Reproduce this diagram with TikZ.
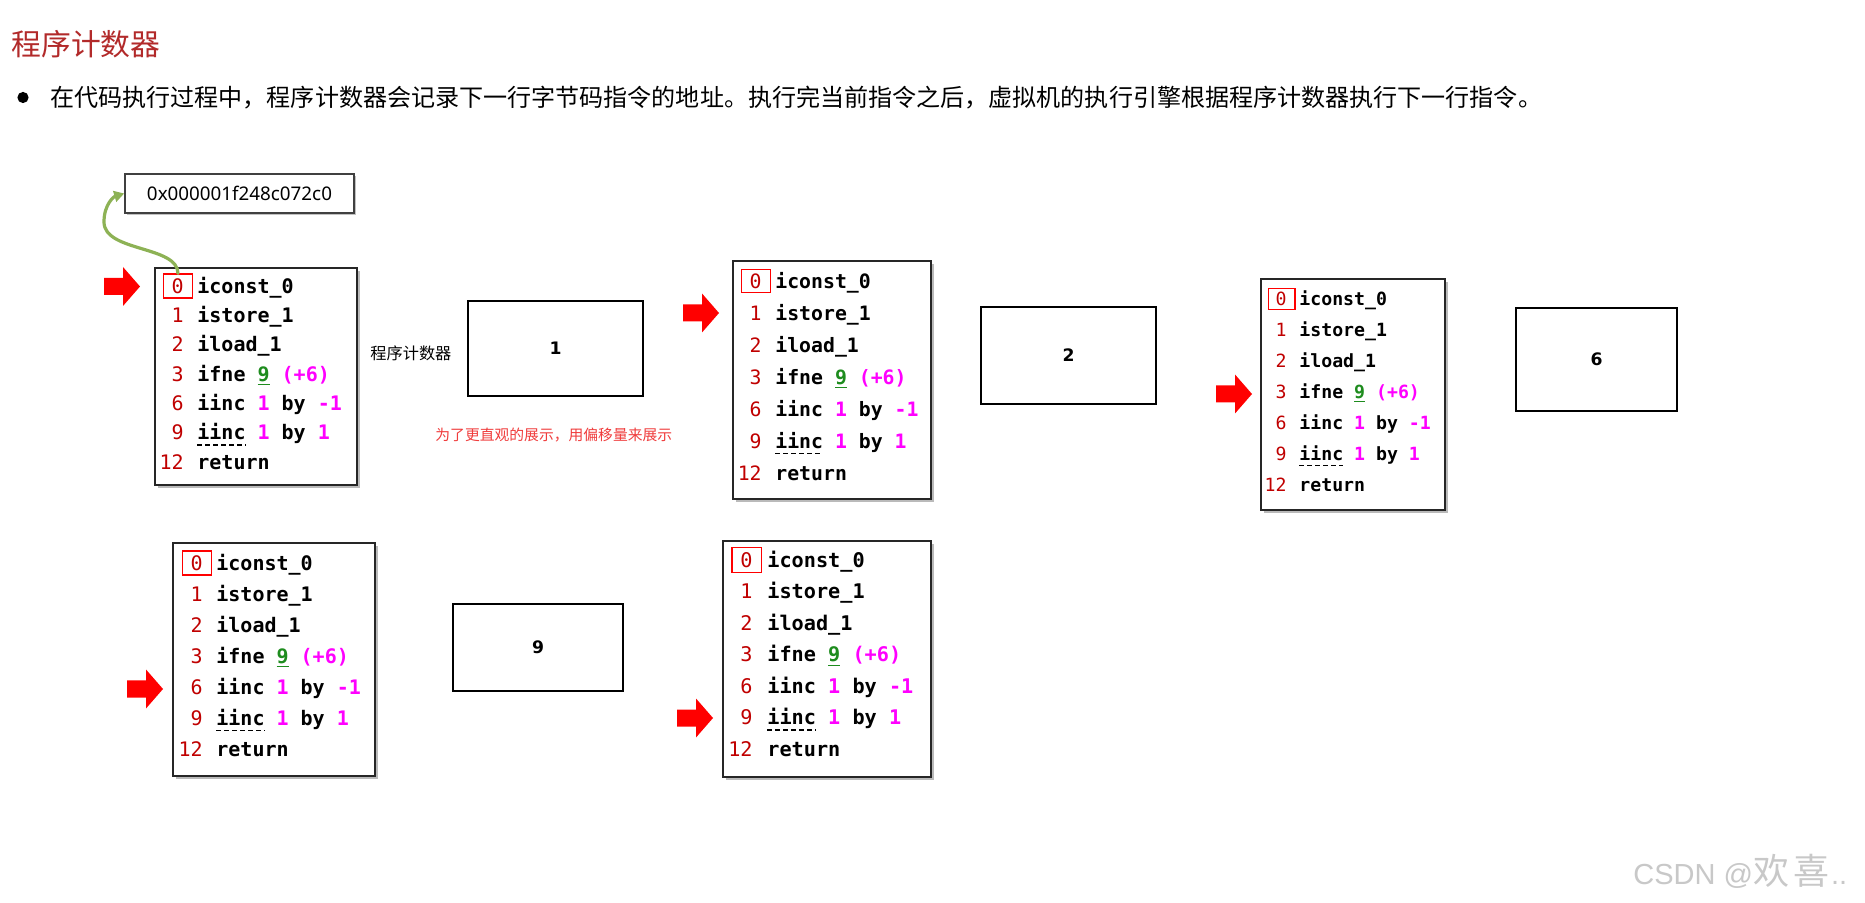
\documentclass[tikz,border=0pt]{standalone}
\usepackage{fontspec}
\setmainfont{Noto Sans}
\newfontfamily\cjk{Noto Sans CJK SC}
\newfontfamily\codefont{DejaVu Sans Mono}
\newfontfamily\wmfont{Liberation Sans}
\newfontfamily\pcfont{DejaVu Sans}
\usetikzlibrary{shadows,arrows.meta}
\definecolor{titlered}{HTML}{B22A2A}
\definecolor{numred}{HTML}{C00000}
\definecolor{codegreen}{HTML}{1E8C1E}
\definecolor{codemag}{HTML}{FF00FF}
\definecolor{notered}{HTML}{F03C3C}
\definecolor{arrowgreen}{HTML}{8DB255}
\definecolor{wmgray}{HTML}{C8C8C8}
\newcommand\cfs{10}
\tikzset{
  codeframe/.style={draw=black!85, line width=0.75pt, fill=white, inner sep=0pt,
    drop shadow={shadow xshift=1.3pt, shadow yshift=-1.3pt, opacity=0.45, fill=black!60}},
  numtxt/.style={anchor=east, inner sep=0pt, text=numred,
    font={\codefont\fontsize{\cfs}{\cfs}\selectfont},
    text height={0.73*\cfs*1pt}, text depth=0pt},
  instr/.style={anchor=west, inner sep=0pt, text=black,
    font={\codefont\bfseries\fontsize{\cfs}{\cfs}\selectfont},
    text height={0.73*\cfs*1pt}, text depth=0pt},
  zerobox/.style={draw=red, line width=0.55pt, inner sep=0pt,
    minimum width={1.48*\cfs*1pt}, minimum height={1.2*\cfs*1pt}},
  dashul/.style={draw=black, line width=0.6pt, dash pattern=on 2.4pt off 1.6pt},
  pcbox/.style={draw=black, line width=1.15pt, inner sep=0pt, fill=white,
    font={\pcfont\bfseries\fontsize{8.6}{10}\selectfont}},
  addrbox/.style={draw=black!75, line width=0.8pt, inner sep=0pt, fill=white,
    font={\fontsize{9.4}{11}\selectfont},
    drop shadow={shadow xshift=1.2pt, shadow yshift=-1.2pt, opacity=0.4, fill=black!60}},
  cjktext/.style={anchor=west, inner sep=0pt},
}
% #1 prefix, #2 x1, #3 y1, #4 x2, #5 y2, #6 number right x, #7 instr x, #8 first line y, #9 spacing
\newcommand\codebox[9]{%
  \node[codeframe, minimum width={(#4-#2)*0.5pt}, minimum height={(#5-#3)*0.5pt}]
    (#1) at ({(#2+#4)/2},{(#3+#5)/2}) {};
  \node[zerobox] (#1z) at ({#6-0.602*\cfs},#8) {};
  \node[numtxt] (#1n0) at (#6,#8) {0};
  \node[instr]  (#1i0) at (#7,#8) {iconst\_0};
  \node[numtxt] (#1n1) at (#6,{#8+#9}) {1};
  \node[instr]  (#1i1) at (#7,{#8+#9}) {istore\_1};
  \node[numtxt] (#1n2) at (#6,{#8+2*#9}) {2};
  \node[instr]  (#1i2) at (#7,{#8+2*#9}) {iload\_1};
  \node[numtxt] (#1n3) at (#6,{#8+3*#9}) {3};
  \node[instr]  (#1i3) at (#7,{#8+3*#9}) {ifne {\color{codegreen}\underline{9}} {\color{codemag}(+6)}};
  \node[numtxt] (#1n4) at (#6,{#8+4*#9}) {6};
  \node[instr]  (#1i4) at (#7,{#8+4*#9}) {iinc {\color{codemag}1} by {\color{codemag}-1}};
  \node[numtxt] (#1n5) at (#6,{#8+5*#9}) {9};
  \node[instr]  (#1i5) at (#7,{#8+5*#9}) {iinc {\color{codemag}1} by {\color{codemag}1}};
  \draw[dashul] ([yshift=-2.4pt]#1i5.south west) -- ++({4.816*\cfs},0);
  \node[numtxt] (#1n6) at (#6,{#8+6*#9}) {12};
  \node[instr]  (#1i6) at (#7,{#8+6*#9}) {return};
}
\newcommand\redarrow[2]{%
  \fill[red] (#1,#2-8.5) -- (#1+19,#2-8.5) -- (#1+19,#2-19.5) -- (#1+36,#2)
    -- (#1+19,#2+19.5) -- (#1+19,#2+8.5) -- (#1,#2+8.5) -- cycle;}
\begin{document}
\begin{tikzpicture}[x=0.5pt,y=-0.5pt]
\useasboundingbox[fill=white] (0,0) rectangle (1865,903);

% title and bullet text
\node[cjktext, text=titlered, font={\cjk\fontsize{14.9}{18}\selectfont}] (title) at (11,44) {程序计数器};
\node[circle, fill=black, inner sep=0pt, minimum size=5.6pt] (bullet) at (23,97.5) {};
\node[cjktext, font={\cjk\fontsize{12.03}{15}\selectfont}] (body) at (50,97.5)
  {在代码执行过程中，程序计数器会记录下一行字节码指令的地址。执行完当前指令之后，虚拟机的执行引擎根据程序计数器执行下一行指令。};

% address box
\node[addrbox, minimum width={229*0.5pt}, minimum height={39*0.5pt}] (addr) at (239.5,193.5) {0x000001f248c072c0};

% code boxes
\renewcommand\cfs{10}\codebox{A}{155}{268}{357}{485}{184}{197}{286}{29.3}
\renewcommand\cfs{9.9}\codebox{B}{733}{261}{931}{499}{762}{775}{281}{32}
\renewcommand\cfs{9.1}\codebox{C}{1261}{279}{1445}{510}{1287}{1299}{299}{31}
\renewcommand\cfs{10}\codebox{D}{173}{543}{375}{776}{203}{216}{563}{31}
\renewcommand\cfs{10.1}\codebox{E}{723}{541}{931}{777}{753}{767}{560}{31.5}

% green pointer
\draw[arrowgreen, line width=1.6pt, line cap=round, -{Triangle[length=5pt,width=5.5pt]}]
  (Az.north) .. controls +(0,-28) and +(0,30) .. (104,222)
  .. controls +(0,-18) and +(-10,3) .. (addr.west);

% red arrows
\redarrow{104}{286.5}
\redarrow{683}{313}
\redarrow{1216}{394}
\redarrow{127}{689}
\redarrow{677}{718}

% program counter boxes
\node[cjktext, font={\cjk\fontsize{8.1}{10}\selectfont}] (pclabel) at (370,353) {程序计数器};
\node[pcbox, minimum width={175*0.5pt}, minimum height={95*0.5pt}] (p1) at (555.5,348.5) {1};
\node[cjktext, text=notered, font={\cjk\fontsize{7.4}{10}\selectfont}] (note) at (435,435) {为了更直观的展示，用偏移量来展示};
\node[pcbox, minimum width={175*0.5pt}, minimum height={97*0.5pt}] (p2) at (1068.5,355.5) {2};
\node[pcbox, minimum width={161*0.5pt}, minimum height={103*0.5pt}] (p3) at (1596.5,359.5) {6};
\node[pcbox, minimum width={170*0.5pt}, minimum height={87*0.5pt}] (p4) at (538,647.5) {9};

% watermark
\node[cjktext, text=wmgray] (wm) at (1633,871)
  {\wmfont\fontsize{14.5}{16}\selectfont CSDN @{\cjk\fontsize{18}{20}\selectfont 欢\kern2pt 喜}\kern1pt..};
\end{tikzpicture}
\end{document}
